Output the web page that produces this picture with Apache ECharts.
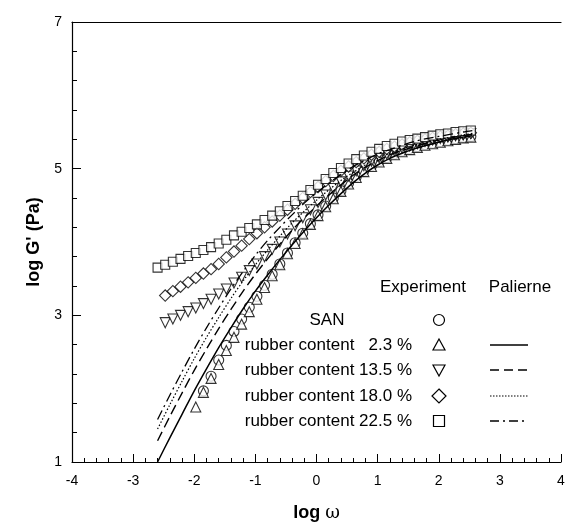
<!DOCTYPE html>
<html>
<head>
<meta charset="utf-8">
<script src="https://cdn.jsdelivr.net/npm/echarts@6/dist/echarts.min.js"></script>
<style>
  html, body { margin: 0; padding: 0; background: #fff; }
  #chart { width: 571px; height: 527px; }
</style>
</head>
<body>
<div id="chart"></div>
<script>
// Storage modulus vs. frequency for SAN and rubber-modified blends
const logOmega = [-2.6, -2.475, -2.35, -2.225, -2.1, -1.975, -1.85, -1.725, -1.6, -1.475,
  -1.35, -1.225, -1.1, -0.975, -0.85, -0.725, -0.6, -0.475, -0.35, -0.225,
  -0.1, 0.025, 0.15, 0.275, 0.4, 0.525, 0.65, 0.775, 0.9, 1.025,
  1.15, 1.275, 1.4, 1.525, 1.65, 1.775, 1.9, 2.025, 2.15, 2.275, 2.4, 2.525];

// measured log G' (Pa); null where no point was taken
const expSAN = [null, null, null, null, null, null, 1.97, 2.17, 2.39, 2.59,
  2.78, 2.95, 3.11, 3.26, 3.41, 3.56, 3.70, 3.85, 3.99, 4.12,
  4.25, 4.37, 4.49, 4.60, 4.70, 4.80, 4.89, 4.97, 5.04, 5.10,
  5.15, 5.20, 5.24, 5.27, 5.30, 5.33, 5.35, 5.37, 5.39, 5.41, 5.43, 5.44];
const exp23 = [null, null, null, null, null, 1.75, 1.95, 2.14, 2.33, 2.52,
  2.70, 2.88, 3.05, 3.22, 3.38, 3.54, 3.69, 3.84, 3.98, 4.11,
  4.24, 4.36, 4.48, 4.59, 4.69, 4.79, 4.88, 4.96, 5.03, 5.09,
  5.14, 5.19, 5.23, 5.26, 5.29, 5.32, 5.34, 5.36, 5.38, 5.40, 5.42, 5.43];
const exp135 = [null, 2.90, 2.95, 3.00, 3.05, 3.10, 3.16, 3.22, 3.29, 3.36,
  3.44, 3.52, 3.61, 3.70, 3.80, 3.90, 4.00, 4.11, 4.22, 4.33,
  4.44, 4.54, 4.64, 4.73, 4.82, 4.90, 4.97, 5.04, 5.10, 5.15,
  5.20, 5.24, 5.28, 5.31, 5.34, 5.37, 5.39, 5.41, 5.43, 5.45, 5.46, 5.48];
const exp180 = [null, 3.27, 3.33, 3.39, 3.45, 3.51, 3.57, 3.63, 3.70, 3.79,
  3.87, 3.95, 4.04, 4.12, 4.20, 4.28, 4.36, 4.44, 4.52, 4.60,
  4.68, 4.75, 4.83, 4.90, 4.97, 5.03, 5.09, 5.14, 5.19, 5.23,
  5.27, 5.30, 5.33, 5.36, 5.38, 5.40, 5.42, 5.44, 5.45, 5.47, 5.48, 5.49];
const exp225 = [3.65, 3.69, 3.73, 3.77, 3.81, 3.85, 3.89, 3.93, 3.98, 4.03,
  4.09, 4.14, 4.19, 4.24, 4.30, 4.36, 4.42, 4.49, 4.56, 4.63,
  4.71, 4.78, 4.86, 4.94, 5.01, 5.07, 5.13, 5.18, 5.23, 5.27,
  5.31, 5.34, 5.37, 5.39, 5.41, 5.43, 5.45, 5.47, 5.48, 5.50, 5.51, 5.52];

// Palierne emulsion model predictions
const modelOmega = [-2.6, -2.4, -2.2, -2.0, -1.8, -1.6, -1.4, -1.2, -1.0, -0.8,
  -0.6, -0.4, -0.2, 0, 0.2, 0.4, 0.6, 0.8, 1.0, 1.2,
  1.4, 1.6, 1.8, 2.0, 2.2, 2.4, 2.55];
const pal23 = [1.00, 1.33, 1.65, 1.97, 2.27, 2.56, 2.83, 3.09, 3.33, 3.55,
  3.76, 3.96, 4.15, 4.33, 4.50, 4.66, 4.81, 4.94, 5.05, 5.14,
  5.21, 5.27, 5.32, 5.36, 5.40, 5.43, 5.45];
const pal135 = [1.29, 1.62, 1.94, 2.25, 2.54, 2.82, 3.08, 3.33, 3.56, 3.77,
  3.97, 4.16, 4.33, 4.49, 4.64, 4.78, 4.91, 5.02, 5.11, 5.19,
  5.25, 5.30, 5.35, 5.39, 5.42, 5.45, 5.47];
const pal180 = [1.45, 1.78, 2.10, 2.41, 2.70, 2.97, 3.23, 3.47, 3.69, 3.89,
  4.08, 4.26, 4.42, 4.57, 4.71, 4.84, 4.95, 5.05, 5.14, 5.21,
  5.27, 5.32, 5.36, 5.40, 5.43, 5.46, 5.48];
const pal225 = [1.58, 1.91, 2.23, 2.54, 2.83, 3.10, 3.36, 3.60, 3.82, 4.02,
  4.20, 4.37, 4.53, 4.67, 4.80, 4.92, 5.03, 5.12, 5.20, 5.26,
  5.32, 5.37, 5.41, 5.44, 5.47, 5.50, 5.52];

const yLabelValues = [1, 3, 5, 7];
const yTickValues = [1, 1.4, 1.8, 2.2, 2.6, 3, 3.4, 3.8, 4.2, 4.6, 5, 5.4, 5.8, 6.2, 6.6, 7];

const legendHeader = ['Experiment', 'Palierne'];
const legendRows = ['SAN', 'rubber content   2.3 %', 'rubber content 13.5 %',
  'rubber content 18.0 %', 'rubber content 22.5 %'];

const FONT = 'Liberation Sans, Arial, sans-serif';

function pairs(xs, ys) {
  const out = [];
  xs.forEach((x, i) => { if (ys[i] != null) out.push([x, ys[i]]); });
  return out;
}

function markerSeries(name, ys, symbol, size, rotate) {
  return {
    name, type: 'scatter', data: pairs(logOmega, ys),
    symbol, symbolSize: size, symbolRotate: rotate || 0,
    itemStyle: { color: '#fff', borderColor: '#000', borderWidth: 1.1 },
    z: 3
  };
}

function modelSeries(name, ys, dash, width) {
  return {
    name, type: 'line', data: pairs(modelOmega, ys), smooth: 0.3,
    showSymbol: false, symbol: 'none',
    lineStyle: { color: '#000', width: width || 1.3, type: dash },
    z: 4
  };
}

const chart = echarts.init(document.getElementById('chart'), null, { renderer: 'canvas' });

const G = { left: 72, right: 10, top: 22, bottom: 64 };

// legend block drawn as graphic elements
const colHeadY = 287, rowY = [320, 345, 370, 396, 421];
const markerX = 439, lineX0 = 490, lineX1 = 528, textRight = 412;
const LF = '17px ' + FONT;
const graphics = [];
graphics.push({ type: 'text', x: 423, y: colHeadY,
  style: { text: legendHeader[0], font: LF, fill: '#000', textAlign: 'center', textVerticalAlign: 'middle' } });
graphics.push({ type: 'text', x: 520, y: colHeadY,
  style: { text: legendHeader[1], font: LF, fill: '#000', textAlign: 'center', textVerticalAlign: 'middle' } });
graphics.push({ type: 'text', x: 327, y: rowY[0],
  style: { text: legendRows[0], font: LF, fill: '#000', textAlign: 'center', textVerticalAlign: 'middle' } });
for (let i = 1; i < 5; i++) {
  graphics.push({ type: 'text', x: textRight, y: rowY[i],
    style: { text: legendRows[i], font: LF, fill: '#000', textAlign: 'right', textVerticalAlign: 'middle' } });
}
const ms = { fill: '#fff', stroke: '#000', lineWidth: 1.2 };
graphics.push({ type: 'circle', shape: { cx: markerX, cy: rowY[0], r: 5.5 }, style: ms });
graphics.push({ type: 'polygon', shape: { points: [[markerX, rowY[1] - 6], [markerX + 6, rowY[1] + 5], [markerX - 6, rowY[1] + 5]] }, style: ms });
graphics.push({ type: 'polygon', shape: { points: [[markerX - 6, rowY[2] - 5], [markerX + 6, rowY[2] - 5], [markerX, rowY[2] + 6]] }, style: ms });
graphics.push({ type: 'polygon', shape: { points: [[markerX, rowY[3] - 7], [markerX + 7, rowY[3]], [markerX, rowY[3] + 7], [markerX - 7, rowY[3]]] }, style: ms });
graphics.push({ type: 'rect', shape: { x: markerX - 5.5, y: rowY[4] - 5.5, width: 11, height: 11 }, style: ms });
const dashes = [null, [9, 5], [1.5, 1.5], [9, 4, 2, 4]];
for (let i = 0; i < 4; i++) {
  graphics.push({ type: 'line', shape: { x1: lineX0, y1: rowY[i + 1], x2: lineX1, y2: rowY[i + 1] },
    style: { stroke: '#000', lineWidth: i === 2 ? 1.2 : 1.6, lineDash: dashes[i] } });
}

const option = {
  backgroundColor: '#fff',
  animation: false,
  grid: G,
  xAxis: [{
    type: 'value', min: -4, max: 4, interval: 1,
    name: '{b|log }{w|ω}', nameLocation: 'middle', nameGap: 42,
    nameTextStyle: { rich: {
      b: { fontFamily: FONT, fontSize: 18, fontWeight: 'bold', color: '#000' },
      w: { fontFamily: 'DejaVu Serif, serif', fontSize: 18, color: '#000' } } },
    axisLine: { onZero: false, lineStyle: { color: '#000', width: 1.2 } },
    axisTick: { inside: true, length: 8, lineStyle: { color: '#000', width: 1 } },
    minorTick: { show: true, splitNumber: 5, length: 4, lineStyle: { color: '#000', width: 1 } },
    axisLabel: { color: '#000', fontFamily: FONT, fontSize: 14, margin: 12 },
    splitLine: { show: false }
  }, {
    type: 'value', position: 'top', min: -4, max: 4,
    axisLine: { show: true, onZero: false, lineStyle: { color: '#000', width: 1.2 } },
    axisTick: { show: false }, axisLabel: { show: false }, splitLine: { show: false }
  }],
  yAxis: [{
    type: 'value', min: 1, max: 7, interval: 2,
    name: "log G' (Pa)", nameLocation: 'middle', nameGap: 26, nameRotate: 90,
    nameTextStyle: { fontFamily: FONT, fontSize: 18, fontWeight: 'bold', color: '#000' },
    axisLine: { show: true, onZero: false, lineStyle: { color: '#000', width: 1.2 } },
    axisTick: { inside: true, length: 5, customValues: yTickValues, lineStyle: { color: '#000', width: 1 } },
    axisLabel: { color: '#000', fontFamily: FONT, fontSize: 14, margin: 10, customValues: yLabelValues },
    splitLine: { show: false }
  }, {
    type: 'value', min: 1, max: 7, position: 'left',
    axisLine: { show: false, onZero: false },
    axisTick: { show: true, inside: true, length: 9, customValues: yLabelValues, lineStyle: { color: '#000', width: 1 } },
    axisLabel: { show: false }, splitLine: { show: false }
  }],
  graphic: graphics,
  series: [
    modelSeries('Palierne 2.3 %', pal23, 'solid', 1.5),
    modelSeries('Palierne 13.5 %', pal135, [10, 5], 1.4),
    modelSeries('Palierne 18.0 %', pal180, [1.5, 2], 1.2),
    modelSeries('Palierne 22.5 %', pal225, [10, 4, 2, 4], 1.3),
    markerSeries('SAN', expSAN, 'circle', 10),
    markerSeries('rubber content 2.3 %', exp23, 'triangle', 10),
    markerSeries('rubber content 13.5 %', exp135, 'triangle', 10, 180),
    markerSeries('rubber content 18.0 %', exp180, 'rect', 8, 45),
    markerSeries('rubber content 22.5 %', exp225, 'rect', 9)
  ]
};

chart.setOption(option);
</script>
</body>
</html>
